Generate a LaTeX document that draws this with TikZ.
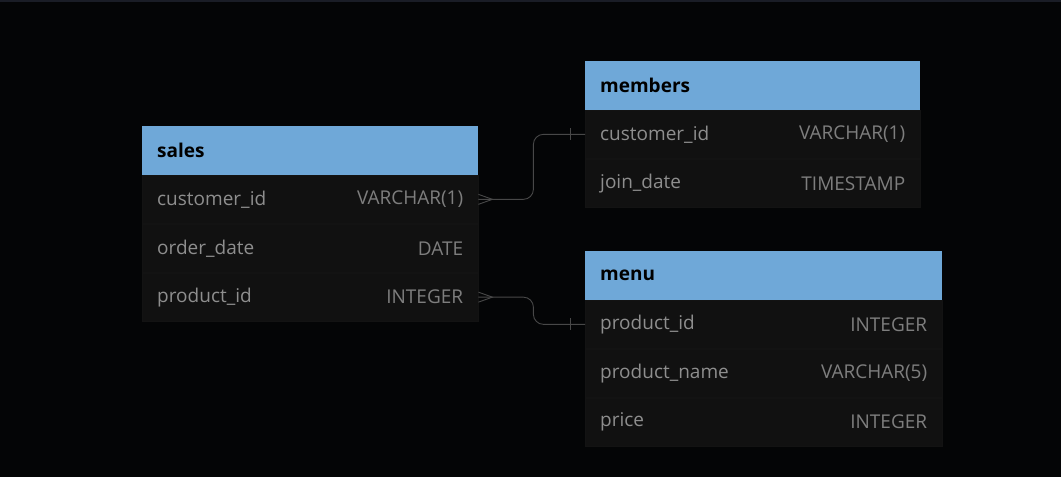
\documentclass[tikz,border=0pt]{standalone}
\usepackage{fontspec}
\setmainfont{Open Sans}
\usetikzlibrary{positioning}
\definecolor{bgcol}{HTML}{040506}
\definecolor{topcol}{HTML}{1A1D26}
\definecolor{headcol}{HTML}{6FA8D8}
\definecolor{rowcol}{HTML}{111111}
\definecolor{sepcol}{HTML}{131313}
\definecolor{fieldcol}{HTML}{8E8E8E}
\definecolor{typecol}{HTML}{7E7E7E}
\definecolor{linkcol}{HTML}{484848}

\begin{document}
\begin{tikzpicture}[x=1pt, y=1pt, node distance=0pt,
  head/.style={fill=headcol, inner sep=0pt, minimum height=48.5pt, anchor=north west},
  row/.style={fill=rowcol, draw=sepcol, line width=0.4pt, inner sep=0pt, minimum height=48.5pt},
  title/.style={font=\bfseries\fontsize{19}{22}\selectfont, text=black, inner sep=0pt},
  field/.style={font=\fontsize{19}{22}\selectfont, text=fieldcol, inner sep=0pt},
  type/.style={font=\fontsize{19}{22}\selectfont, text=typecol, inner sep=0pt},
  link/.style={draw=linkcol, line width=0.9pt}]
  \fill[bgcol] (0,0) rectangle (1061,477);
  \fill[topcol] (0,475) rectangle (1061,477);
  \useasboundingbox (0,0) rectangle (1061,477);

  % sales
  \node (sales) [head, minimum width=336pt] at (142,351) {};
  \node (sales-1) [row, minimum width=336pt, below=of sales] {};
  \node (sales-2) [row, minimum width=336pt, below=of sales-1] {};
  \node (sales-3) [row, minimum width=336pt, below=of sales-2] {};
  \node [title, right=15pt of sales.west] {sales};
  \node [field, right=15pt of sales-1.west] {customer\_id};
  \node [type, left=15pt of sales-1.east] {VARCHAR(1)};
  \node [field, right=15pt of sales-2.west] {order\_date};
  \node [type, left=15pt of sales-2.east] {DATE};
  \node [field, right=15pt of sales-3.west] {product\_id};
  \node [type, left=15pt of sales-3.east] {INTEGER};

  % members
  \node (members) [head, minimum width=335pt] at (585,416) {};
  \node (members-1) [row, minimum width=335pt, below=of members] {};
  \node (members-2) [row, minimum width=335pt, below=of members-1] {};
  \node [title, right=15pt of members.west] {members};
  \node [field, right=15pt of members-1.west] {customer\_id};
  \node [type, left=15pt of members-1.east] {VARCHAR(1)};
  \node [field, right=15pt of members-2.west] {join\_date};
  \node [type, left=15pt of members-2.east] {TIMESTAMP};

  % menu
  \node (menu) [head, minimum width=357pt] at (585,226) {};
  \node (menu-1) [row, minimum width=357pt, below=of menu] {};
  \node (menu-2) [row, minimum width=357pt, below=of menu-1] {};
  \node (menu-3) [row, minimum width=357pt, below=of menu-2] {};
  \node [title, right=15pt of menu.west] {menu};
  \node [field, right=15pt of menu-1.west] {product\_id};
  \node [type, left=15pt of menu-1.east] {INTEGER};
  \node [field, right=15pt of menu-2.west] {product\_name};
  \node [type, left=15pt of menu-2.east] {VARCHAR(5)};
  \node [field, right=15pt of menu-3.west] {price};
  \node [type, left=15pt of menu-3.east] {INTEGER};

  % relations
  \draw[link, rounded corners=10pt] (sales-1.east) -- ++(55,0) |- (members-1.west);
  \draw[link] (sales-1.east) ++(0,5) -- ++(14,-5) -- ++(-14,-5);
  \draw[link] ([xshift=-15pt]members-1.west) ++(0,6) -- ++(0,-12);
  \draw[link, rounded corners=10pt] (sales-3.east) -- ++(55,0) |- (menu-1.west);
  \draw[link] (sales-3.east) ++(0,5) -- ++(14,-5) -- ++(-14,-5);
  \draw[link] ([xshift=-15pt]menu-1.west) ++(0,6) -- ++(0,-12);
\end{tikzpicture}
\end{document}
